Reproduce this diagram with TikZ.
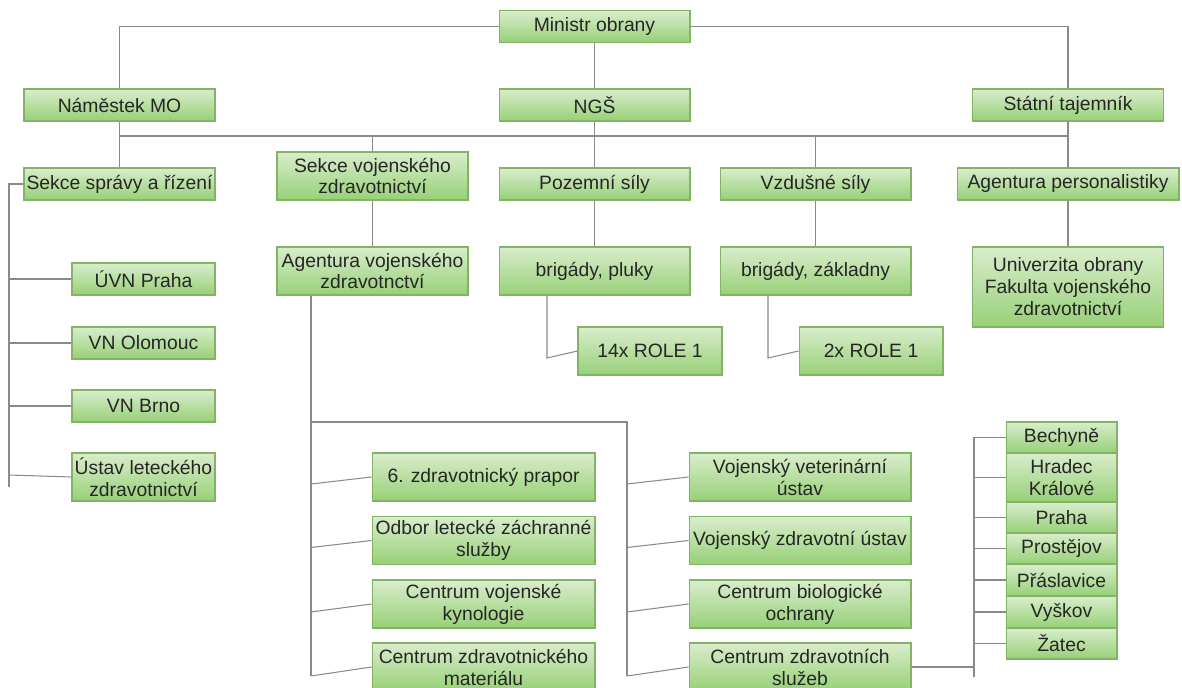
\documentclass[tikz,border=0pt]{standalone}
\usepackage{fontspec}
\setmainfont{Liberation Sans}
\usepackage{tikz}

\definecolor{boxtop}{HTML}{D9EDCC}
\definecolor{boxbot}{HTML}{97D077}
\definecolor{boxline}{HTML}{82B366}
\definecolor{linkgray}{HTML}{8A8A8A}
\definecolor{txt}{HTML}{262626}

\tikzset{
  box/.style={draw=boxline, line width=0.6pt, top color=boxtop, bottom color=boxbot,
    text=txt, align=center, inner sep=0pt, minimum width=3.82cm, minimum height=0.64cm,
    font=\fontsize{11}{12.5}\selectfont},
  tall/.style={minimum height=0.96cm},
  link/.style={draw=linkgray, line width=0.6pt}
}

\begin{document}
\begin{tikzpicture}[x=0.02cm, y=-0.02cm]
\useasboundingbox (0,0) rectangle (1182,688);

% top levels
\node[box] (MIN) at (594.5,26.5) {Ministr obrany};
\node[box] (NAM) at (119.5,105) {Náměstek MO};
\node[box] (NGS) at (594.5,105) {NGŠ};
\node[box] (STT) at (1068,105) {Státní tajemník};

% sections
\node[box] (SSR) at (119.5,184) {Sekce správy a řízení};
\node[box, tall] (SVZ) at (372.5,176) {Sekce vojenského\\zdravotnictví};
\node[box] (POZ) at (594.5,184) {Pozemní síly};
\node[box] (VZD) at (815.5,184) {Vzdušné síly};
\node[box, minimum width=4.44cm] (APE) at (1068,184) {Agentura personalistiky};

\node[box, tall] (AVZ) at (372.5,271) {Agentura vojenského\\zdravotnctví};
\node[box, tall] (BPL) at (594.5,271) {brigády, pluky};
\node[box, tall] (BZA) at (815.5,271) {brigády, základny};
\node[box, minimum height=1.6cm] (UNO) at (1068,287) {Univerzita obrany\\Fakulta vojenského\\zdravotnictví};

\node[box, tall, minimum width=2.88cm] (R14) at (650,351) {14x ROLE 1};
\node[box, tall, minimum width=2.88cm] (R2) at (871,351) {2x ROLE 1};

% left column
\node[box, minimum width=2.86cm] (UVN) at (143.5,279) {ÚVN Praha};
\node[box, minimum width=2.86cm] (VNO) at (143.5,343) {VN Olomouc};
\node[box, minimum width=2.86cm] (VNB) at (143.5,406) {VN Brno};
\node[box, tall, minimum width=2.86cm] (ULZ) at (143.5,477) {Ústav leteckého\\zdravotnictví};

% bottom columns
\node[box, tall, minimum width=4.46cm] (ZPR) at (483.5,477) {6. zdravotnický prapor};
\node[box, tall, minimum width=4.46cm] (OLZ) at (483.5,540.5) {Odbor letecké záchranné\\služby};
\node[box, tall, minimum width=4.46cm] (CVK) at (483.5,604) {Centrum vojenské\\kynologie};
\node[box, tall, minimum width=4.46cm] (CZM) at (483.5,667) {Centrum zdravotnického\\materiálu};

\node[box, tall, minimum width=4.44cm] (VVU) at (800,477) {Vojenský veterinární\\ústav};
\node[box, tall, minimum width=4.44cm] (VZU) at (800,540.5) {Vojenský zdravotní ústav};
\node[box, tall, minimum width=4.44cm] (CBO) at (800,604) {Centrum biologické\\ochrany};
\node[box, tall, minimum width=4.44cm] (CZS) at (800,667) {Centrum zdravotních\\služeb};

% towns
\node[box, minimum width=2.22cm, minimum height=0.62cm] (BEC) at (1061.5,437.5) {Bechyně};
\node[box, minimum width=2.22cm, minimum height=0.98cm] (HKR) at (1061.5,477.5) {Hradec\\Králové};
\node[box, minimum width=2.22cm, minimum height=0.62cm] (PRA) at (1061.5,517.5) {Praha};
\node[box, minimum width=2.22cm, minimum height=0.62cm] (PRO) at (1061.5,548.5) {Prostějov};
\node[box, minimum width=2.22cm, minimum height=0.64cm] (PRS) at (1061.5,580) {Přáslavice};
\node[box, minimum width=2.22cm, minimum height=0.64cm] (VYS) at (1061.5,612) {Vyškov};
\node[box, minimum width=2.22cm, minimum height=0.62cm] (ZAT) at (1061.5,643.5) {Žatec};

% rails and bends
\coordinate (BUS) at (0,136);
\coordinate (BUS2) at (0,422);
\coordinate (LRAIL) at (9,487);
\coordinate (ARAIL) at (311,676);
\coordinate (BRAIL) at (627,676);
\coordinate (CRAIL) at (974,677);
\coordinate (PK) at (547,358);
\coordinate (ZK) at (768,358);

\begin{scope}[on background layer/.try]
\draw[link] (MIN.west) -| (NAM.north);
\draw[link] (MIN.east) -| (STT.north);
\draw[link] (MIN) -- (NGS);
\draw[link] (NAM.south |- BUS) -- (STT.south |- BUS);
\draw[link] (NAM) -- (SSR);
\draw[link] (NGS) -- (POZ);
\draw[link] (STT) -- (APE);
\draw[link] (SVZ.north) -- (SVZ.north |- BUS);
\draw[link] (VZD.north) -- (VZD.north |- BUS);
\draw[link] (SVZ) -- (AVZ);
\draw[link] (POZ) -- (BPL);
\draw[link] (VZD) -- (BZA);
\draw[link] (APE) -- (UNO);
\draw[link] (BPL.south -| PK) -- (PK) -- (R14.west);
\draw[link] (BZA.south -| ZK) -- (ZK) -- (R2.west);

\draw[link] (SSR.west) -- (SSR.west -| LRAIL) -- (LRAIL);
\draw[link] (UVN.west) -- (UVN.west -| LRAIL);
\draw[link] (VNO.west) -- (VNO.west -| LRAIL);
\draw[link] (VNB.west) -- (VNB.west -| LRAIL);
\draw[link] (ULZ.west) -- ([yshift=0.04cm]ULZ.west -| LRAIL);

\draw[link] (AVZ.south -| ARAIL) -- (ARAIL);
\draw[link] (BUS2 -| ARAIL) -- (BUS2 -| BRAIL) -- (BRAIL);
\draw[link] (ZPR.west) -- ([yshift=-0.14cm]ZPR.west -| ARAIL);
\draw[link] (OLZ.west) -- ([yshift=-0.14cm]OLZ.west -| ARAIL);
\draw[link] (CVK.west) -- ([yshift=-0.16cm]CVK.west -| ARAIL);
\draw[link] (CZM.west) -- ([yshift=-0.18cm]CZM.west -| ARAIL);
\draw[link] (VVU.west) -- ([yshift=-0.14cm]VVU.west -| BRAIL);
\draw[link] (VZU.west) -- ([yshift=-0.14cm]VZU.west -| BRAIL);
\draw[link] (CBO.west) -- ([yshift=-0.16cm]CBO.west -| BRAIL);
\draw[link] (CZS.west) -- ([yshift=-0.18cm]CZS.west -| BRAIL);

\draw[link] (BEC.west) -- (BEC.west -| CRAIL) -- (CRAIL);
\draw[link] (HKR.west) -- (HKR.west -| CRAIL);
\draw[link] (PRA.west) -- (PRA.west -| CRAIL);
\draw[link] (PRO.west) -- (PRO.west -| CRAIL);
\draw[link] (PRS.west) -- (PRS.west -| CRAIL);
\draw[link] (VYS.west) -- (VYS.west -| CRAIL);
\draw[link] (ZAT.west) -- (ZAT.west -| CRAIL);
\draw[link] (CZS.east) -- (CZS.east -| CRAIL);
\end{scope}
\end{tikzpicture}
\end{document}
